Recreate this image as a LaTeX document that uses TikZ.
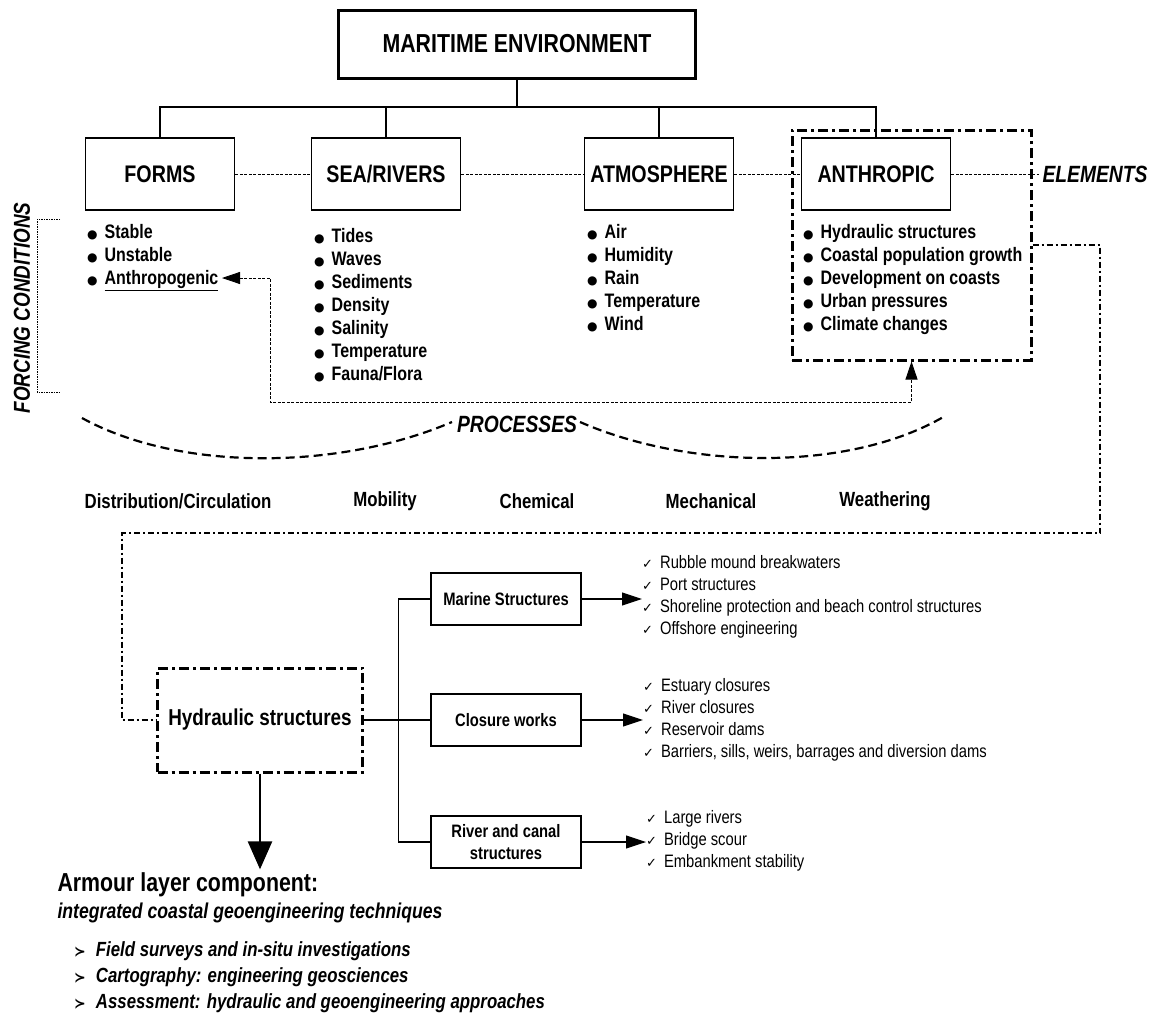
\documentclass[tikz,border=0pt]{standalone}
\usepackage{fontspec}
\setmainfont{Liberation Sans}[FakeStretch=0.82]
\newfontfamily\dingfont{DejaVu Sans}
\usetikzlibrary{arrows.meta}

\newcommand{\blt}{{\dingfont\fontsize{12}{12}\selectfont ●}\hspace{7pt}}
\newcommand{\chk}{{\dingfont\fontsize{13}{13}\selectfont ✓}\hspace{7pt}}
\newcommand{\pnt}{{\dingfont\bfseries\fontsize{14}{14}\selectfont ≻}\hspace{10pt}}

\begin{document}
\begin{tikzpicture}[x=1pt, y=-1pt,
  mainbox/.style={draw, line width=3pt, minimum width=357pt, minimum height=68pt, font=\bfseries\fontsize{26}{30}\selectfont},
  elembox/.style={draw, line width=1.6pt, minimum width=149pt, minimum height=72pt, font=\bfseries\fontsize{24}{28}\selectfont},
  subbox/.style={draw, line width=1.1pt, minimum width=150pt, minimum height=52pt, align=center, font=\bfseries\fontsize{18}{22}\selectfont},
  frame/.style={draw, line width=3pt, dash pattern=on 10pt off 4pt on 3pt off 4pt},
  tag/.style={font=\bfseries\itshape\fontsize{23.5}{26}\selectfont},
  proc/.style={font=\bfseries\fontsize{20.5}{24}\selectfont},
  itemlist/.style={anchor=north west, inner sep=0pt, align=left, font=\bfseries\fontsize{19.5}{23}\selectfont},
  chklist/.style={anchor=north west, inner sep=0pt, align=left, font=\fontsize{18}{22}\selectfont},
  link/.style={line width=1.6pt},
  sublink/.style={line width=1.1pt},
  fine/.style={line width=0.8pt, dash pattern=on 3pt off 1.5pt},
  dashdot/.style={line width=1.3pt, dash pattern=on 6pt off 3pt on 2pt off 3pt},
  curve/.style={line width=2.2pt, dash pattern=on 9pt off 5pt}]
\useasboundingbox (0,0) rectangle (1151,1017);

% elements
\node[mainbox] (maritime) at (517,44) {MARITIME ENVIRONMENT};
\node[elembox] (forms) at (160,174) {FORMS};
\node[elembox] (sea) at (386,174) {SEA/RIVERS};
\node[elembox] (atmo) at (659,174) {ATMOSPHERE};
\node[elembox] (anthro) at (876,174) {ANTHROPIC};
\node[tag] (elements) at (1095,174) {ELEMENTS};
\node[frame, minimum width=239pt, minimum height=230pt] (anthroframe) at (911.5,245) {};

\coordinate (bus) at (517,107);
\draw[link] (maritime) -- (bus);
\draw[link] (forms.north) |- (bus) -| (anthro.north);
\draw[link] (sea.north) -- (sea.north |- bus);
\draw[link] (atmo.north) -- (atmo.north |- bus);

\draw[fine] (forms) -- (sea);
\draw[fine] (sea) -- (atmo);
\draw[fine] (atmo) -- (anthro);
\draw[fine] (anthro) -- (elements);

% forcing conditions
\node[itemlist] (formslist) at (87,224.5) {\blt Stable\\ \blt Unstable\\ \blt \underline{Anthropogenic}};
\node[itemlist] (sealist) at (314,228.5) {\blt Tides\\ \blt Waves\\ \blt Sediments\\ \blt Density\\ \blt Salinity\\ \blt Temperature\\ \blt Fauna/Flora};
\node[itemlist] (atmolist) at (587,224.5) {\blt Air\\ \blt Humidity\\ \blt Rain\\ \blt Temperature\\ \blt Wind};
\node[itemlist] (anthrolist) at (803,224.5) {\blt Hydraulic structures\\ \blt Coastal population growth\\ \blt Development on coasts\\ \blt Urban pressures\\ \blt Climate changes};

\node[tag, rotate=90, font=\bfseries\itshape\fontsize{23}{26}\selectfont] (forcing) at (22,308) {FORCING CONDITIONS};
\draw[line width=0.9pt, dash pattern=on 1.5pt off 1pt] (60,219) -| (37,392) -- (60,392);

\coordinate (anthropogenic) at (222,278);
\coordinate (turn) at (270,402);
\draw[fine, {Triangle[length=18pt,width=12pt]}-{Triangle[length=18pt,width=12pt]}] (anthropogenic) -| (turn) -| (anthroframe.south);

% processes
\draw[curve] (82,418) .. controls (180,472) and (340,470) .. (452,422);
\draw[curve] (580,422) .. controls (690,470) and (850,472) .. (945,416);
\node[tag] (processes) at (517,424) {PROCESSES};

\node[proc] (distrib) at (178,501) {Distribution/Circulation};
\node[proc] (mobility) at (385,501) {Mobility};
\node[proc] (chemical) at (537,501) {Chemical};
\node[proc] (mechanical) at (711,501) {Mechanical};
\node[proc] (weathering) at (885,501) {Weathering};

% hydraulic structures
\node[frame, minimum width=205pt, minimum height=104pt, font=\bfseries\fontsize{23}{26}\selectfont] (hydro) at (260,720) {Hydraulic structures};
\coordinate (c1) at (1100,533);
\coordinate (c2) at (122,533);
\draw[dashdot] (anthroframe.east) -| (c1) -- (c2) |- (hydro.west);

\node[subbox] (marine) at (506,599) {Marine Structures};
\node[subbox] (closure) at (506,720) {Closure works};
\node[subbox] (river) at (506,842) {River and canal\\structures};

\draw[sublink] (hydro.east) -- (closure.west);
\draw[sublink] (marine.west) -- ++(-32,0) |- (river.west);

\node[chklist] (marinelist) at (642,555) {\chk Rubble mound breakwaters\\ \chk Port structures\\ \chk Shoreline protection and beach control structures\\ \chk Offshore engineering};
\node[chklist] (closurelist) at (643,678) {\chk Estuary closures\\ \chk River closures\\ \chk Reservoir dams\\ \chk Barriers, sills, weirs, barrages and diversion dams};
\node[chklist] (riverlist) at (646,810) {\chk Large rivers\\ \chk Bridge scour\\ \chk Embankment stability};

\draw[sublink, -{Triangle[length=20pt,width=13pt]}] (marine.east) -- (marine.east -| marinelist.west);
\draw[sublink, -{Triangle[length=20pt,width=13pt]}] (closure.east) -- (closure.east -| closurelist.west);
\draw[sublink, -{Triangle[length=20pt,width=13pt]}] (river.east) -- (river.east -| riverlist.west);

% armour layer
\node[anchor=west, font=\bfseries\fontsize{26}{30}\selectfont] (armour) at (54,885) {Armour layer component:};
\node[anchor=west, font=\bfseries\itshape\fontsize{21.5}{25}\selectfont] (techniques) at (54,913) {integrated coastal geoengineering techniques};
\draw[line width=2.6pt, -{Triangle[length=28pt,width=24pt]}] (hydro.south) -- (hydro.south |- armour.north);
\node[anchor=north west, inner sep=0pt, align=left, font=\bfseries\itshape\fontsize{20.5}{26}\selectfont] (methods) at (74,941) {\pnt Field surveys and in-situ investigations\\ \pnt Cartography: engineering geosciences\\ \pnt Assessment: hydraulic and geoengineering approaches};
\end{tikzpicture}
\end{document}
